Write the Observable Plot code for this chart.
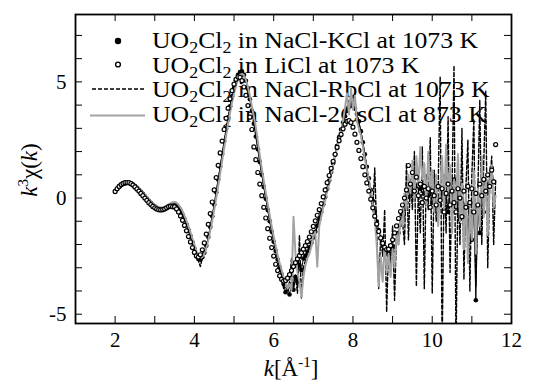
<!DOCTYPE html>
<html><head><meta charset="utf-8">
<script src="https://cdn.jsdelivr.net/npm/d3@7"></script>
<script src="https://cdn.jsdelivr.net/npm/@observablehq/plot@0.6"></script>
<style>body{margin:0;background:#fff}</style>
</head><body><div id="chart"></div>
<script>
// k grid (Å^-1)
const K = [
2.00,2.05,2.10,2.15,2.20,2.25,2.30,2.35,2.40,2.45,
2.50,2.55,2.60,2.65,2.70,2.75,2.80,2.85,2.90,2.95,
3.00,3.05,3.10,3.15,3.20,3.25,3.30,3.35,3.40,3.45,
3.50,3.55,3.60,3.65,3.70,3.75,3.80,3.85,3.90,3.95,
4.00,4.05,4.10,4.15,4.20,4.25,4.30,4.35,4.40,4.45,
4.50,4.55,4.60,4.65,4.70,4.75,4.80,4.85,4.90,4.95,
5.00,5.05,5.10,5.15,5.20,5.25,5.30,5.35,5.40,5.45,
5.50,5.55,5.60,5.65,5.70,5.75,5.80,5.85,5.90,5.95,
6.00,6.05,6.10,6.15,6.20,6.25,6.30,6.35,6.40,6.45,
6.50,6.55,6.60,6.65,6.70,6.75,6.80,6.85,6.90,6.95,
7.00,7.05,7.10,7.15,7.20,7.25,7.30,7.35,7.40,7.45,
7.50,7.55,7.60,7.65,7.70,7.75,7.80,7.85,7.90,7.95,
8.00,8.05,8.10,8.15,8.20,8.25,8.30,8.35,8.40,8.45,
8.50,8.55,8.60,8.65,8.70,8.75,8.80,8.85,8.90,8.95,
9.00,9.05,9.10,9.15,9.20,9.25,9.30,9.35,9.40,9.45,
9.50,9.55,9.60,9.65,9.70,9.75,9.80,9.85,9.90,9.95,
10.00,10.05,10.10,10.15,10.20,10.25,10.30,10.35,10.40,10.45,
10.50,10.55,10.60,10.65,10.70,10.75,10.80,10.85,10.90,10.95,
11.00,11.05,11.10,11.15,11.20,11.25,11.30,11.35,11.40,11.45,
11.50,11.55,11.60];

// UO2Cl2 in NaCl-KCl at 1073 K (filled dots)
const kcl = [
0.30,0.40,0.48,0.55,0.60,0.63,0.65,0.65,0.63,0.58,
0.52,0.44,0.36,0.27,0.18,0.08,-0.02,-0.12,-0.21,-0.29,
-0.36,-0.42,-0.46,-0.48,-0.48,-0.46,-0.42,-0.37,-0.32,-0.29,
-0.29,-0.33,-0.42,-0.55,-0.72,-0.92,-1.14,-1.38,-1.63,-1.90,
-2.18,-2.42,-2.62,-2.65,-2.55,-2.35,-2.05,-1.68,-1.25,-0.78,
-0.28,0.25,0.80,1.35,1.90,2.45,2.98,3.48,3.95,4.38,
4.75,5.07,5.30,5.42,5.45,5.30,5.05,4.70,4.25,3.75,
3.20,2.65,2.10,1.55,1.00,0.48,-0.03,-0.52,-1.00,-1.45,
-1.88,-2.28,-2.65,-2.98,-3.28,-3.70,-4.05,-3.85,-4.15,-3.70,
-3.95,-3.40,-3.60,-2.90,-3.10,-2.60,-2.48,-2.30,-2.12,-1.92,
-1.70,-1.45,-1.18,-0.90,-0.60,-0.28,0.05,0.40,0.75,1.12,
1.50,1.88,2.25,2.62,2.95,3.25,3.52,3.75,3.92,4.00,
3.98,3.85,3.62,3.30,2.88,2.40,1.88,1.35,0.85,0.35,
-0.12,-0.58,-1.00,-1.38,-1.72,-2.00,-2.22,-2.38,-2.45,-2.42,
-2.30,-2.10,-1.82,-1.50,-1.15,-0.80,-0.48,-0.20,0.05,0.25,
0.40,0.55,0.50,0.60,0.40,0.55,0.20,0.45,0.10,0.30,
-0.20,0.35,-0.40,0.10,-0.30,0.40,-0.50,0.20,-0.60,0.50,
-0.20,0.80,-0.40,0.30,-0.90,-0.20,-1.10,-0.30,-1.40,-0.60,
-1.80,-0.50,-4.40,-0.40,-1.50,0.20,-0.60,0.60,0.20,1.00,
1.30,0.70,null];

// UO2Cl2 in LiCl at 1073 K (open circles)
const licl = [
0.28,0.40,0.50,0.58,0.63,0.66,0.67,0.66,0.62,0.56,
0.48,0.39,0.30,0.20,0.10,0.00,-0.10,-0.20,-0.28,-0.36,
-0.42,-0.47,-0.50,-0.51,-0.50,-0.47,-0.42,-0.37,-0.35,-0.38,
-0.38,-0.47,-0.60,-0.77,-0.96,-1.18,-1.41,-1.66,-1.89,-2.13,
-2.34,-2.49,-2.54,-2.44,-2.23,-1.93,-1.55,-1.13,-0.67,-0.17,
0.35,0.88,1.41,1.94,2.45,2.95,3.43,3.87,4.27,4.62,
4.90,5.11,5.21,5.19,5.05,4.78,4.42,3.98,3.48,2.95,
2.20,1.65,1.10,0.60,0.10,-0.40,-0.86,-1.32,-1.73,-2.13,
-2.50,-2.85,-3.12,-3.35,-3.50,-3.58,-3.55,-3.45,-3.30,-3.12,
-2.95,-2.78,-2.62,-2.48,-2.35,-2.20,-2.05,-1.88,-1.68,-1.45,
-1.22,-0.98,-0.74,-0.50,-0.24,0.05,0.35,0.66,0.97,1.28,
1.58,1.88,2.18,2.47,2.74,2.98,3.18,3.30,3.33,3.25,
3.05,2.75,2.40,2.05,1.70,1.35,1.00,0.65,0.30,-0.05,
-0.42,-0.78,-1.12,-1.44,-1.72,-1.95,-2.12,-2.22,-2.20,-2.05,
-1.80,-1.50,-1.20,-0.88,-0.58,-0.30,0.00,0.35,1.40,0.60,
1.10,0.30,0.90,0.10,0.60,-0.20,0.50,0.00,0.40,-0.40,
0.30,0.10,-0.30,0.50,-0.10,0.40,-0.60,0.20,0.60,-0.30,
0.30,-0.20,-0.60,0.40,0.00,-0.80,0.30,-0.40,0.50,-0.20,
0.40,-0.60,0.20,-0.30,0.60,0.10,0.80,0.30,1.00,0.50,
1.20,0.70,2.30];

// UO2Cl2 in NaCl-RbCl at 1073 K (dashed)
const rbcl = [
0.28,0.38,0.46,0.52,0.57,0.60,0.62,0.62,0.60,0.55,
0.49,0.41,0.33,0.24,0.15,0.05,-0.05,-0.15,-0.24,-0.32,
-0.39,-0.45,-0.49,-0.51,-0.51,-0.49,-0.45,-0.40,-0.35,-0.32,
-0.32,-0.36,-0.45,-0.58,-0.75,-0.95,-1.17,-1.41,-1.66,-1.93,
-2.20,-2.45,-2.70,-2.95,-2.58,-2.38,-2.08,-1.70,-1.28,-0.80,
-0.30,0.22,0.76,1.30,1.85,2.40,2.93,3.43,3.90,4.33,
4.70,5.02,5.25,5.38,5.40,5.28,5.04,4.70,4.27,3.78,
3.24,2.70,2.15,1.60,1.06,0.54,0.03,-0.46,-0.94,-1.40,
-1.84,-2.25,-2.62,-2.95,-3.30,-3.90,-3.50,-4.00,-3.60,-2.60,
-3.90,-3.30,-4.10,-1.60,-4.30,-3.00,-2.70,-2.40,-2.20,-1.95,
-1.75,-1.50,-1.22,-0.95,-0.65,-0.32,0.00,0.36,0.72,1.08,
1.46,1.84,2.20,2.58,2.92,3.22,3.55,3.90,4.20,4.05,
4.40,3.90,3.70,3.20,2.85,2.35,1.90,1.20,0.60,0.00,
-0.50,1.30,-1.50,-3.90,-1.60,-2.50,-0.50,-4.90,-2.00,-3.00,
-1.20,-4.40,-1.50,-2.00,-0.50,-1.00,-2.00,1.50,-1.80,0.80,
-0.50,2.00,-3.80,0.50,-1.50,2.20,-3.90,1.00,-0.50,2.60,
-4.10,1.20,-1.00,0.50,5.20,-6.50,1.00,-1.50,3.50,-3.20,
0.50,5.70,-6.50,0.80,-2.00,3.00,-3.50,0.50,2.50,-4.00,
1.00,3.40,-3.80,0.20,4.20,-2.00,1.50,4.60,-3.00,0.50,
1.80,-2.00,0.80];

// UO2Cl2 in NaCl-2CsCl at 873 K (gray line)
const cscl = [
0.35,0.42,0.50,0.56,0.61,0.64,0.66,0.67,0.65,0.61,
0.56,0.49,0.41,0.33,0.24,0.15,0.05,-0.05,-0.14,-0.22,
-0.29,-0.35,-0.39,-0.41,-0.41,-0.38,-0.33,-0.27,-0.22,-0.18,
-0.17,-0.20,-0.28,-0.40,-0.56,-0.76,-0.98,-1.22,-1.47,-1.74,
-2.02,-2.28,-2.48,-2.58,-2.55,-2.40,-2.15,-1.82,-1.42,-0.98,
-0.50,0.00,0.52,1.05,1.60,2.15,2.68,3.20,3.68,4.12,
4.50,4.85,5.12,5.30,5.35,5.28,5.08,4.78,4.40,3.95,
3.50,3.05,2.45,1.85,1.28,0.75,0.25,-0.25,-0.75,-1.22,
-1.65,-2.05,-2.45,-2.80,-3.10,-3.40,-3.65,-3.90,-3.70,-3.95,
-0.80,-2.40,-3.20,-3.60,-4.25,-3.40,-2.90,-2.60,-2.40,-2.10,
-1.60,-1.45,-2.95,-1.20,-0.80,-0.40,-0.10,0.30,0.60,1.00,
1.40,1.80,2.15,2.55,2.90,3.30,3.90,4.50,3.60,4.70,
3.80,4.40,3.30,3.00,2.70,2.20,1.70,1.20,0.80,0.30,
-0.30,-0.90,-2.00,-3.80,-2.50,-3.60,-2.00,-3.20,-2.40,-3.40,
-2.20,-3.00,-1.50,-2.00,-0.80,-1.20,0.20,-0.50,1.00,0.20,
1.60,0.00,1.80,0.50,2.20,0.80,1.50,-0.30,2.00,0.40,
1.20,-0.60,1.00,-1.20,0.50,1.80,-0.50,2.30,0.20,1.40,
-1.50,0.80,-0.40,1.90,-1.00,0.60,-2.20,0.30,-2.80,-0.50,
-1.80,1.20,-2.40,0.40,-1.20,1.80,-0.80,1.00,-1.60,0.60,
1.40,-0.40,0.10];

const xTicks = [2,4,6,8,10,12];
const yTicks = [-5,0,5];
const xMinor = [1,2,3,4,5,6,7,8,9,10,11,12];
const yMinor = [-5,-4,-3,-2,-1,0,1,2,3,4,5,6,7];
const legendRest = [" in NaCl-KCl at 1073 K"," in LiCl at 1073 K"," in NaCl-RbCl at 1073 K"," in NaCl-2CsCl at 873 K"];

const rows = ys => K.map((k,i) => ({k, y: ys[i]})).filter(d => d.y != null);

const W = 542, H = 381, mL = 75, mR = 31, mT = 14, mB = 58;
const iw = W - mL - mR, ih = H - mT - mB, tl = 7;
const gray = "#a3a3a3";
const serif = "Liberation Serif";

const plot = Plot.plot({
  width: W, height: H,
  marginLeft: mL, marginRight: mR, marginTop: mT, marginBottom: mB,
  style: {fontFamily: serif, fontSize: "21px", color: "black", background: "white"},
  x: {domain: [1, 12]},
  y: {domain: [-5.4, 7.9]},
  marks: [
    Plot.line(rows(rbcl), {x: "k", y: "y", stroke: "black", strokeWidth: 1.4, strokeDasharray: "4,2", clip: true}),
    Plot.line(rows(kcl), {x: "k", y: "y", stroke: "black", strokeWidth: 1, clip: true}),
    Plot.dot(rows(kcl), {x: "k", y: "y", r: 2.3, fill: "black", clip: true}),
    Plot.line(rows(cscl), {x: "k", y: "y", stroke: gray, strokeWidth: 2, clip: true}),
    Plot.dot(rows(licl), {x: "k", y: "y", r: 2.0, fill: "white", stroke: "black", strokeWidth: 1.2, clip: true}),
    Plot.tickX(xMinor, {x: d => d, insetTop: ih - tl, stroke: "black"}),
    Plot.tickX(xMinor, {x: d => d, insetBottom: ih - tl, stroke: "black"}),
    Plot.tickY(yMinor, {y: d => d, insetRight: iw - tl, stroke: "black"}),
    Plot.tickY(yMinor, {y: d => d, insetLeft: iw - tl, stroke: "black"}),
    Plot.frame({stroke: "black", strokeWidth: 1.8}),
    Plot.axisX({ticks: xTicks, tickSize: 0, tickPadding: 9, fontSize: 21, label: null, tickFormat: d => String(d)}),
    Plot.axisY({ticks: yTicks, tickSize: 0, tickPadding: 9, fontSize: 21, label: null, tickFormat: d => String(d)})
  ]
});
document.getElementById("chart").appendChild(plot);

const svg = d3.select(plot);
// legend (drawn underneath data, as in the reference)
const lg = svg.insert("g", ":first-child").attr("font-size", 23).attr("fill", "black").attr("text-anchor", "start");
const base = [48, 72.5, 97, 121.5];
legendRest.forEach((rest, i) => {
  const t = lg.append("text").attr("text-anchor", "start").style("font-family", serif)
    .attr("transform", `translate(152,${base[i]}) scale(1.12,1)`).style("white-space", "pre");
  t.append("tspan").text("UO");
  t.append("tspan").attr("font-size", 16).attr("dy", 5).text("2");
  t.append("tspan").attr("dy", -5).text("Cl");
  t.append("tspan").attr("font-size", 16).attr("dy", 5).text("2");
  t.append("tspan").attr("dy", -5).text(rest);
});
lg.append("circle").attr("cx", 118).attr("cy", base[0] - 7).attr("r", 3.2).attr("fill", "black");
lg.append("circle").attr("cx", 118).attr("cy", base[1] - 8).attr("r", 2.4).attr("fill", "white").attr("stroke", "black").attr("stroke-width", 1.4);
lg.append("line").attr("x1", 92).attr("x2", 145).attr("y1", base[2] - 8).attr("y2", base[2] - 8).attr("stroke", "black").attr("stroke-width", 1.5).attr("stroke-dasharray", "4,2");
lg.append("line").attr("x1", 90).attr("x2", 145).attr("y1", base[3] - 6).attr("y2", base[3] - 6).attr("stroke", gray).attr("stroke-width", 2);

// axis titles
const yl = svg.append("text").attr("transform", "translate(37,170) rotate(-90)").attr("text-anchor", "middle").attr("font-size", 23).style("font-family", serif);
yl.append("tspan").attr("font-style", "italic").text("k");
yl.append("tspan").attr("font-size", 15).attr("dy", -9).text("3");
yl.append("tspan").attr("dy", 9).text("χ(");
yl.append("tspan").attr("font-style", "italic").text("k");
yl.append("tspan").text(")");

const xl = svg.append("text").attr("x", 291).attr("y", 376).attr("text-anchor", "middle").attr("font-size", 23).style("font-family", serif);
xl.append("tspan").attr("font-style", "italic").text("k");
xl.append("tspan").text("[Å");
xl.append("tspan").attr("font-size", 15).attr("dy", -9).text("-1");
xl.append("tspan").attr("dy", 9).text("]");
</script>
</body></html>
